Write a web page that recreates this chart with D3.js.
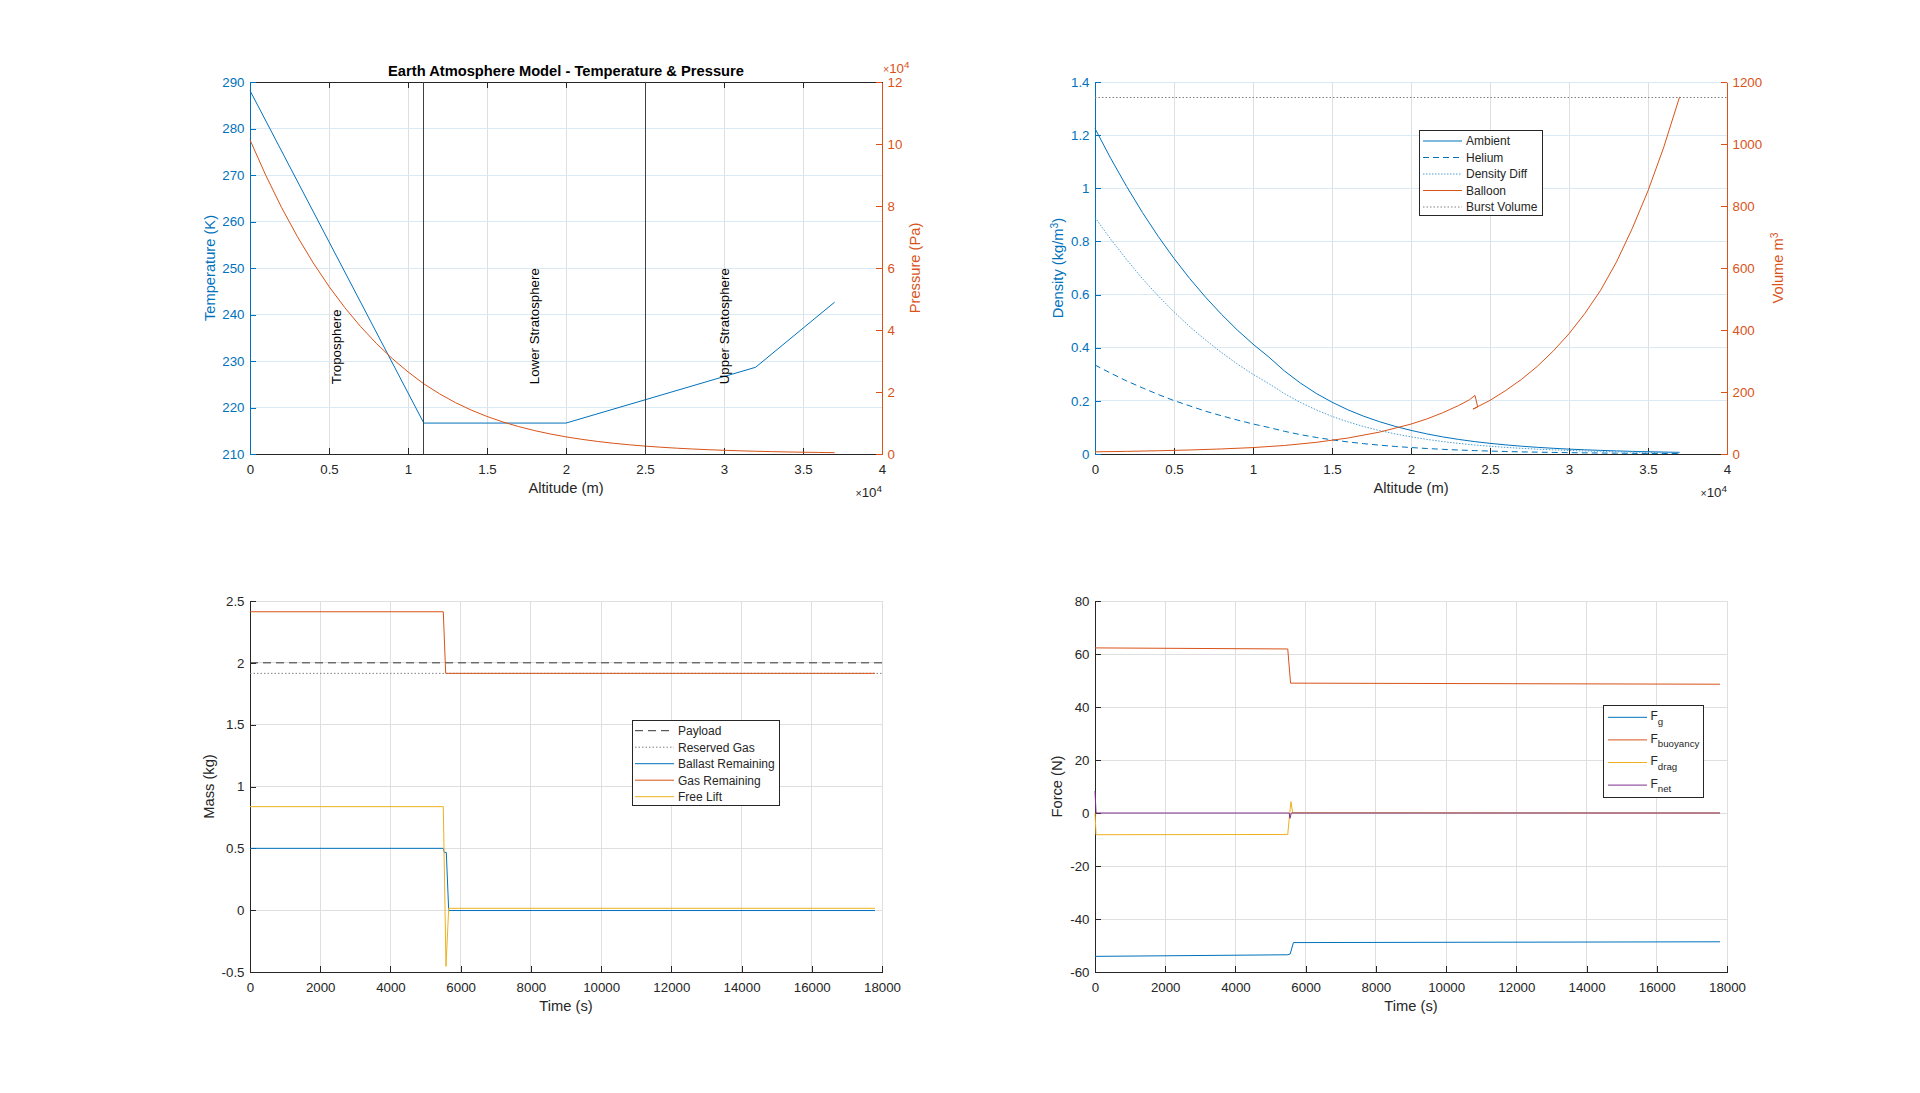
<!DOCTYPE html>
<html><head><meta charset="utf-8">
<script src="https://cdn.jsdelivr.net/npm/d3@7"></script>
<style>
body{margin:0;background:#fff;}
svg{display:block;}
</style></head><body>
<svg id="chart" width="1920" height="1093"></svg>
<script>
// ---------------- DATA ----------------
// Panel 1: temperature & pressure vs altitude
const tempAlt = [0, 11000, 20000, 32000, 37000];
const tempK   = [288.15, 216.65, 216.65, 228.65, 242.65];
const presAlt = [0,1000,2000,3000,4000,5000,6000,7000,8000,9000,10000,11000,12000,13000,14000,15000,16000,17000,18000,19000,20000,21000,22000,23000,24000,25000,26000,27000,28000,29000,30000,31000,32000,33000,34000,35000,36000,37000];
const presPa  = [101325,89876,79501,70121,61660,54048,47217,41105,35651,30800,26499,22632,19399,16579,14170,12111,10352,8850,7565,6467,5529,4729,4048,3467,2972,2549,2188,1880,1616,1390,1197,1032,889,767,663,575,499,433];
const layerBounds = [11000, 25000];
const layerNames  = ["Troposphere", "Lower Stratosphere", "Upper Stratosphere"];
const layerNameAlt = [5500, 18000, 30000];
const layerNameTemp = 225;
const altTicks  = [0,5000,10000,15000,20000,25000,30000,35000,40000];
const tempTicks = [210,220,230,240,250,260,270,280,290];
const presTicks = [0,20000,40000,60000,80000,100000,120000];

// Panel 2: densities & balloon volume vs altitude
const densAlt = [0,1000,2000,3000,4000,5000,6000,7000,8000,9000,10000,11000,12000,13000,14000,15000,16000,17000,18000,19000,20000,21000,22000,23000,24000,25000,26000,27000,28000,29000,30000,31000,32000,33000,34000,35000,36000,37000];
const ambientDensity = [1.225,1.112,1.007,0.909,0.819,0.736,0.660,0.590,0.526,0.467,0.4135,0.365,0.312,0.267,0.228,0.195,0.1665,0.1423,0.1217,0.104,0.0889,0.0757,0.0645,0.055,0.0469,0.0401,0.0343,0.0293,0.0251,0.0215,0.0184,0.0158,0.0136,0.0116,0.0099,0.0085,0.0073,0.0062];
const heliumDensity  = [0.335,0.304,0.275,0.249,0.224,0.201,0.181,0.161,0.144,0.128,0.113,0.0998,0.0853,0.0729,0.0623,0.0533,0.0455,0.0389,0.0333,0.0284,0.0243,0.0207,0.0176,0.015,0.0128,0.011,0.0094,0.008,0.0069,0.0059,0.005,0.0043,0.0037,0.0032,0.0027,0.0023,0.002,0.0017];
const densityDiff    = [0.890,0.808,0.732,0.660,0.595,0.535,0.479,0.429,0.382,0.339,0.300,0.265,0.227,0.194,0.166,0.1415,0.121,0.1034,0.0884,0.0756,0.0646,0.055,0.0469,0.04,0.0341,0.0291,0.0249,0.0213,0.0182,0.0156,0.0134,0.0115,0.0099,0.0084,0.0072,0.0062,0.0053,0.0045];
const balloonAlt    = [0,2000,4000,6000,8000,10000,12000,14000,16000,18000,20000,21000,22000,23000,23700,24050,24220,23930,25000,26000,27000,28000,29000,30000,31000,32000,33000,34000,35000,36000,37000];
const balloonVolume = [7.0,8.5,10.5,13.0,16.3,20.7,27.5,37.6,51.5,70.5,96.5,113,133,156,175,189,152,145,173,205,241,283,332,388,453,528,619,727,849,990,1152];
const burstVolume = 1150;
const densTicks = [0,0.2,0.4,0.6,0.8,1,1.2,1.4];
const volTicks  = [0,200,400,600,800,1000,1200];

// Panel 3: masses vs time
const timeTicks = [0,2000,4000,6000,8000,10000,12000,14000,16000,18000];
const massTicks = [-0.5,0,0.5,1,1.5,2,2.5];
const payloadTime = [0, 18000];         const payloadMass = [2.0, 2.0];
const reservedTime = [0, 18000];        const reservedGas = [1.915, 1.915];
const ballastTime = [0, 5505, 5535, 5591, 5659, 17800];
const ballastMass = [0.5, 0.5, 0.467, 0.467, -0.003, -0.003];
const gasTime = [0, 5505, 5573, 17800];
const gasMass = [2.413, 2.413, 1.915, 1.915];
const freeLiftTime = [0, 5505, 5582, 5659, 17800];
const freeLift = [0.837, 0.837, -0.455, 0.015, 0.015];

// Panel 4: forces vs time
const forceTicks = [-60,-40,-20,0,20,40,60,80];
const fgTime = [0, 5490, 5560, 5650, 17800];           const fg = [-54.1, -53.5, -53.2, -48.9, -48.6];
const fbTime = [0, 5490, 5570, 17800];                 const fb = [62.3, 61.9, 49.0, 48.6];
const fdTime = [0, 30, 5490, 5525, 5580, 5630, 17800]; const fd = [0, -8.2, -8.1, -3.0, 4.3, 0.1, 0];
const fnTime = [0, 30, 5530, 5554, 5590, 17800];       const fn = [8.3, 0, 0, -2.0, 0, 0];

// ---------------- STYLE ----------------
const FONT = '"Liberation Sans", Arial, Helvetica, sans-serif';
const BLUE = '#0072BD', ORANGE = '#D95319', YELLOW = '#EDB120', PURPLE = '#7E2F8E', DARK = '#262626';
const GRID = '#dfdfdf', GRIDB = '#d9eaf5';
const F_TICK = 13.3, F_LABEL = 14.7, F_LEG = 12, TICK = 6;

const svg = d3.select('#chart');
svg.append('rect').attr('width', 1920).attr('height', 1093).attr('fill', '#fff');

const boxes = {
  p1: {x0: 250, x1: 882, y0: 82, y1: 454},
  p2: {x0: 1095, x1: 1727, y0: 82, y1: 454},
  p3: {x0: 250, x1: 882, y0: 601, y1: 972},
  p4: {x0: 1095, x1: 1727, y0: 601, y1: 972}
};

function gridX(box, x, ticks, color) {
  svg.append('g').selectAll('line').data(ticks).join('line')
    .attr('x1', d => x(d)).attr('x2', d => x(d)).attr('y1', box.y0).attr('y2', box.y1)
    .attr('stroke', color).attr('shape-rendering', 'crispEdges');
}
function gridY(box, y, ticks, color) {
  svg.append('g').selectAll('line').data(ticks).join('line')
    .attr('y1', d => y(d)).attr('y2', d => y(d)).attr('x1', box.x0).attr('x2', box.x1)
    .attr('stroke', color).attr('shape-rendering', 'crispEdges');
}
function styleAxis(g, color, textColor) {
  g.attr('font-family', FONT).attr('font-size', F_TICK);
  g.select('.domain').attr('stroke', color).attr('shape-rendering', 'crispEdges');
  g.selectAll('.tick line').attr('stroke', color).attr('shape-rendering', 'crispEdges');
  g.selectAll('.tick text').attr('fill', textColor);
}
const plain = d => String(d);
function bottomAxis(box, x, ticks, fmt, topToo) {
  const g = svg.append('g').attr('transform', `translate(0,${box.y1})`)
    .call(d3.axisBottom(x).tickValues(ticks).tickSize(-TICK).tickSizeOuter(0).tickPadding(10.6).tickFormat(fmt));
  styleAxis(g, DARK, DARK);
  if (topToo) {
    const t = svg.append('g').attr('transform', `translate(0,${box.y0})`)
      .call(d3.axisTop(x).tickValues(ticks).tickSize(-TICK).tickSizeOuter(0).tickFormat(''));
    styleAxis(t, DARK, DARK);
  }
}
function leftAxis(box, y, ticks, fmt, color) {
  const g = svg.append('g').attr('transform', `translate(${box.x0},0)`)
    .call(d3.axisLeft(y).tickValues(ticks).tickSize(-TICK).tickSizeOuter(0).tickPadding(5.5).tickFormat(fmt));
  styleAxis(g, color, color);
}
function rightAxis(box, y, ticks, fmt, color) {
  const g = svg.append('g').attr('transform', `translate(${box.x1},0)`)
    .call(d3.axisRight(y).tickValues(ticks).tickSize(-TICK).tickSizeOuter(0).tickPadding(5.5).tickFormat(fmt));
  styleAxis(g, color, color);
}
function plotLine(x, y, xs, ys, color, dash, width) {
  svg.append('path').datum(d3.zip(xs, ys))
    .attr('d', d3.line().x(d => x(d[0])).y(d => y(d[1])))
    .attr('fill', 'none').attr('stroke', color).attr('stroke-width', width || 1)
    .attr('stroke-dasharray', dash || null).attr('stroke-linejoin', 'round');
}
function xLabel(box, txt) {
  svg.append('text').attr('x', (box.x0 + box.x1) / 2).attr('y', box.y1 + 39)
    .attr('text-anchor', 'middle').attr('font-family', FONT).attr('font-size', F_LABEL)
    .attr('fill', DARK).text(txt);
}
function yLabel(xBase, box, parts, color) {
  const t = svg.append('text')
    .attr('transform', `translate(${xBase},${(box.y0 + box.y1) / 2}) rotate(-90)`)
    .attr('text-anchor', 'middle').attr('font-family', FONT).attr('font-size', F_LABEL).attr('fill', color);
  parts.forEach(p => {
    if (typeof p === 'string') t.append('tspan').text(p);
    else t.append('tspan').attr('baseline-shift', 'super').attr('font-size', F_LABEL * 0.7).text(p.sup);
  });
}
function exponentLabel(xPos, yPos, anchor, color) {
  const t = svg.append('text').attr('x', xPos).attr('y', yPos).attr('text-anchor', anchor)
    .attr('font-family', FONT).attr('font-size', F_TICK).attr('fill', color);
  t.append('tspan').attr('font-size', F_TICK * 0.8).text('\u00d7');
  t.append('tspan').text('10');
  t.append('tspan').attr('baseline-shift', 'super').attr('font-size', F_TICK * 0.75).text('4');
}
function legend(L, items) {
  const g = svg.append('g').attr('font-family', FONT).attr('font-size', F_LEG);
  g.append('rect').attr('x', L.x).attr('y', L.y).attr('width', L.w).attr('height', L.h)
    .attr('fill', '#fff').attr('stroke', DARK).attr('stroke-width', 1).attr('shape-rendering', 'crispEdges');
  items.forEach((it, i) => {
    const yy = L.row0 + i * L.step;
    g.append('line').attr('x1', L.lx0).attr('x2', L.lx1).attr('y1', yy).attr('y2', yy)
      .attr('stroke', it.color).attr('stroke-width', 1).attr('stroke-dasharray', it.dash || null);
    const t = g.append('text').attr('x', L.tx).attr('y', yy + L.dy).attr('fill', DARK);
    if (it.sub) {
      t.append('tspan').text(it.label);
      t.append('tspan').attr('font-size', 9.7).attr('dy', 4.5).text(it.sub);
    } else t.text(it.label);
  });
}

// ---------------- PANEL 1 ----------------
{
  const b = boxes.p1;
  const x = d3.scaleLinear().domain([0, 40000]).range([b.x0, b.x1]);
  const yT = d3.scaleLinear().domain([210, 290]).range([b.y1, b.y0]);
  const yP = d3.scaleLinear().domain([0, 120000]).range([b.y1, b.y0]);
  gridX(b, x, altTicks, GRID);
  gridY(b, yT, tempTicks, GRIDB);
  bottomAxis(b, x, altTicks, d => String(d / 1e4), true);
  leftAxis(b, yT, tempTicks, plain, BLUE);
  rightAxis(b, yP, presTicks, d => String(d / 1e4), ORANGE);
  plotLine(x, yT, tempAlt, tempK, BLUE);
  plotLine(x, yP, presAlt, presPa, ORANGE);
  svg.append('g').selectAll('line').data(layerBounds).join('line')
    .attr('x1', d => x(d)).attr('x2', d => x(d)).attr('y1', b.y0).attr('y2', b.y1)
    .attr('stroke', '#404040').attr('stroke-width', 1).attr('shape-rendering', 'crispEdges');
  svg.append('g').selectAll('text').data(layerNames).join('text')
    .attr('transform', (d, i) => `translate(${x(layerNameAlt[i])},${yT(layerNameTemp)}) rotate(-90)`)
    .attr('dominant-baseline', 'central').attr('text-anchor', 'start')
    .attr('font-family', FONT).attr('font-size', F_TICK).attr('fill', '#000').text(d => d);
  svg.append('text').attr('x', (b.x0 + b.x1) / 2).attr('y', 75.5).attr('text-anchor', 'middle')
    .attr('font-family', FONT).attr('font-size', F_LABEL).attr('font-weight', 'bold').attr('fill', '#000')
    .text('Earth Atmosphere Model - Temperature & Pressure');
  xLabel(b, 'Altitude (m)');
  yLabel(214.5, b, ['Temperature (K)'], BLUE);
  yLabel(920, b, ['Pressure (Pa)'], ORANGE);
  exponentLabel(b.x1, 497, 'end', DARK);
  exponentLabel(b.x1 + 1, 73, 'start', ORANGE);
}

// ---------------- PANEL 2 ----------------
{
  const b = boxes.p2;
  const x = d3.scaleLinear().domain([0, 40000]).range([b.x0, b.x1]);
  const yD = d3.scaleLinear().domain([0, 1.4]).range([b.y1, b.y0]);
  const yV = d3.scaleLinear().domain([0, 1200]).range([b.y1, b.y0]);
  gridX(b, x, altTicks, GRID);
  gridY(b, yD, densTicks, GRIDB);
  bottomAxis(b, x, altTicks, d => String(d / 1e4), false);
  leftAxis(b, yD, densTicks, plain, BLUE);
  rightAxis(b, yV, volTicks, plain, ORANGE);
  plotLine(x, yD, densAlt, ambientDensity, BLUE);
  plotLine(x, yD, densAlt, heliumDensity, BLUE, '6,4');
  plotLine(x, yD, densAlt, densityDiff, '#4d9fd6', '1.5,1.5');
  plotLine(x, yV, balloonAlt, balloonVolume, ORANGE);
  plotLine(x, yV, [0, 40000], [burstVolume, burstVolume], '#808080', '1.5,2');
  xLabel(b, 'Altitude (m)');
  yLabel(1062.5, b, ['Density (kg/m', {sup: '3'}, ')'], BLUE);
  yLabel(1783, b, ['Volume m', {sup: '3'}], ORANGE);
  exponentLabel(b.x1, 497, 'end', DARK);
  legend({x: 1419, y: 130.5, w: 123, h: 85, row0: 141, step: 16.5, lx0: 1423, lx1: 1462, tx: 1466, dy: 4.3}, [
    {label: 'Ambient', color: BLUE},
    {label: 'Helium', color: BLUE, dash: '6,4'},
    {label: 'Density Diff', color: '#4d9fd6', dash: '1.5,1.5'},
    {label: 'Balloon', color: ORANGE},
    {label: 'Burst Volume', color: '#808080', dash: '1.5,2'}
  ]);
}

// ---------------- PANEL 3 ----------------
{
  const b = boxes.p3;
  const x = d3.scaleLinear().domain([0, 18000]).range([b.x0, b.x1]);
  const y = d3.scaleLinear().domain([-0.5, 2.5]).range([b.y1, b.y0]);
  gridX(b, x, timeTicks, GRID);
  gridY(b, y, massTicks, GRID);
  bottomAxis(b, x, timeTicks, plain, false);
  leftAxis(b, y, massTicks, plain, DARK);
  plotLine(x, y, payloadTime, payloadMass, '#333333', '8,5');
  plotLine(x, y, reservedTime, reservedGas, '#808080', '1.5,2');
  plotLine(x, y, ballastTime, ballastMass, BLUE);
  plotLine(x, y, gasTime, gasMass, ORANGE);
  plotLine(x, y, freeLiftTime, freeLift, YELLOW);
  xLabel(b, 'Time (s)');
  yLabel(214, b, ['Mass (kg)'], DARK);
  legend({x: 632, y: 720.5, w: 147, h: 85, row0: 730.7, step: 16.5, lx0: 635, lx1: 674, tx: 678, dy: 4.3}, [
    {label: 'Payload', color: '#333333', dash: '8,5'},
    {label: 'Reserved Gas', color: '#808080', dash: '1.5,2'},
    {label: 'Ballast Remaining', color: BLUE},
    {label: 'Gas Remaining', color: ORANGE},
    {label: 'Free Lift', color: YELLOW}
  ]);
}

// ---------------- PANEL 4 ----------------
{
  const b = boxes.p4;
  const x = d3.scaleLinear().domain([0, 18000]).range([b.x0, b.x1]);
  const y = d3.scaleLinear().domain([-60, 80]).range([b.y1, b.y0]);
  gridX(b, x, timeTicks, GRID);
  gridY(b, y, forceTicks, GRID);
  bottomAxis(b, x, timeTicks, plain, false);
  leftAxis(b, y, forceTicks, plain, DARK);
  plotLine(x, y, fgTime, fg, BLUE);
  plotLine(x, y, fbTime, fb, ORANGE);
  plotLine(x, y, fdTime, fd, YELLOW);
  plotLine(x, y, fnTime, fn, PURPLE);
  xLabel(b, 'Time (s)');
  yLabel(1062, b, ['Force (N)'], DARK);
  legend({x: 1603.5, y: 705.5, w: 100, h: 92, row0: 717.3, step: 22.6, lx0: 1608, lx1: 1647, tx: 1650.5, dy: 2.7}, [
    {label: 'F', sub: 'g', color: BLUE},
    {label: 'F', sub: 'buoyancy', color: ORANGE},
    {label: 'F', sub: 'drag', color: YELLOW},
    {label: 'F', sub: 'net', color: PURPLE}
  ]);
}
</script>
</body></html>
